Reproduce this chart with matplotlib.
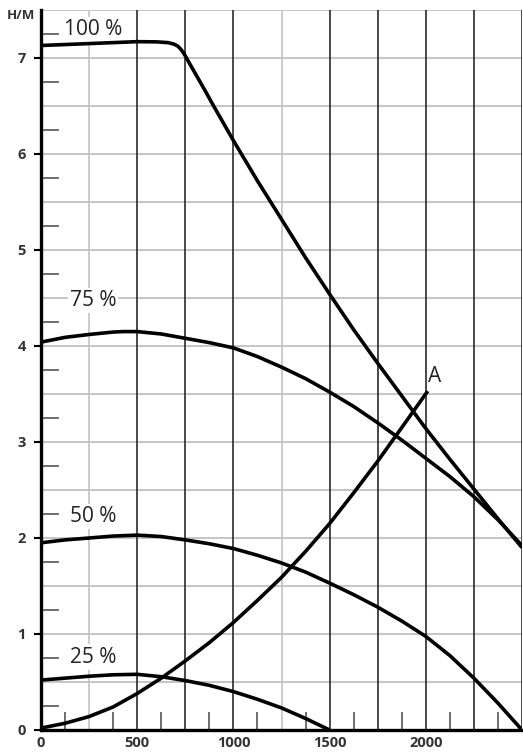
import matplotlib.pyplot as plt
from matplotlib.ticker import FixedLocator

plt.rcParams['font.family'] = ['Open Sans', 'DejaVu Sans']

# flow (x) and head H/M (y)
q100 = [0, 250, 500, 600, 660, 690, 710, 725, 740, 755, 770, 850, 900, 1000, 1125, 1250,
        1375, 1500, 1625, 1750, 1875, 2000, 2125, 2250, 2375, 2500]
h100 = [7.13, 7.15, 7.17, 7.168, 7.16, 7.145, 7.125, 7.095, 7.055, 7.005, 6.95, 6.67, 6.49,
        6.14, 5.72, 5.32, 4.92, 4.54, 4.17, 3.82, 3.48, 3.14, 2.82, 2.51, 2.2, 1.9]

q75 = [0, 125, 250, 375, 425, 500, 625, 750, 875, 1000, 1125, 1250, 1375, 1500,
       1625, 1750, 1875, 2000, 2125, 2250, 2375, 2500]
h75 = [4.04, 4.09, 4.12, 4.145, 4.15, 4.15, 4.125, 4.08, 4.035, 3.98, 3.89, 3.78,
       3.66, 3.52, 3.37, 3.2, 3.02, 2.83, 2.64, 2.43, 2.19, 1.92]

q50 = [0, 125, 250, 375, 500, 625, 750, 875, 1000, 1125, 1250, 1375, 1500, 1625,
       1750, 1875, 2000, 2125, 2250, 2375, 2500]
h50 = [1.95, 1.98, 2.0, 2.02, 2.03, 2.015, 1.98, 1.94, 1.89, 1.82, 1.74, 1.645,
       1.53, 1.41, 1.28, 1.135, 0.975, 0.775, 0.54, 0.28, 0.0]

q25 = [0, 125, 250, 375, 500, 625, 750, 875, 1000, 1125, 1250, 1375, 1500]
h25 = [0.52, 0.54, 0.56, 0.575, 0.58, 0.555, 0.515, 0.465, 0.40, 0.32, 0.23, 0.12, 0.0]

qA = [0, 125, 250, 375, 500, 625, 750, 875, 1000, 1125, 1250, 1375, 1500, 1625,
      1750, 1875, 2010]
hA = [0.02, 0.07, 0.14, 0.24, 0.38, 0.54, 0.72, 0.91, 1.12, 1.35, 1.59, 1.86,
      2.15, 2.47, 2.8, 3.15, 3.53]

curve_labels = ['100 %', '75 %', '50 %', '25 %']
label_pos = [(270, 7.3), (270, 4.47), (270, 2.22), (270, 0.76)]

xticks = [0, 500, 1000, 1500, 2000]
yticks = [0, 1, 2, 3, 4, 5, 6, 7]

fig = plt.figure(figsize=(5.23, 7.56), dpi=100)
ax = fig.add_axes([0.0784, 0.0344, 0.9197, 0.9524])
ax.set_xlim(0, 2500)
ax.set_ylim(0, 7.5)

# grid
for y in [0.5 * i for i in range(1, 16)]:
    ax.axhline(y, color='#b5b5b5', lw=1.1, zorder=1)
for x in [250, 1250]:
    ax.axvline(x, color='#c4c4c4', lw=1.2, zorder=1)
for x in [500, 750, 1000, 1500, 1750, 2000, 2250, 2498]:
    ax.axvline(x, color='#2a2a2a', lw=1.2, zorder=1)

for q, h in [(q100, h100), (q75, h75), (q50, h50), (q25, h25), (qA, hA)]:
    ax.plot(q, h, color='black', lw=2.6, solid_capstyle='butt',
            solid_joinstyle='round', zorder=3)

for txt, (x, y) in zip(curve_labels, label_pos):
    ax.text(x, y, txt, fontsize=15, color='#222222', ha='center', va='center',
            bbox=dict(facecolor='white', edgecolor='none', pad=1.5), zorder=2)
ax.text(2048, 3.68, 'A', fontsize=15, color='#222222', ha='center', va='center', zorder=4)
ax.text(-0.012, 0.992, 'H/M', transform=ax.transAxes, fontsize=9.5,
        fontweight='bold', color='#333333', ha='right', va='center')

for s in ['top', 'right']:
    ax.spines[s].set_visible(False)
for s in ['left', 'bottom']:
    ax.spines[s].set_linewidth(2.4)
    ax.spines[s].set_zorder(5)

ax.set_xticks(xticks)
ax.set_yticks(yticks)
ax.xaxis.set_minor_locator(FixedLocator([125 + 250 * i for i in range(10)]))
ax.yaxis.set_minor_locator(FixedLocator([0.25 + 0.5 * i for i in range(15)]))
ax.tick_params(axis='x', which='major', length=0, pad=4, labelsize=10.5,
               labelcolor='#333333')
ax.tick_params(axis='y', which='major', length=5, width=1.5, direction='out',
               pad=6, labelsize=10.5, labelcolor='#333333')
ax.tick_params(which='minor', direction='in', length=13, width=1.2, color='#555555')
for lab in ax.get_xticklabels() + ax.get_yticklabels():
    lab.set_fontweight('bold')

fig.savefig('out.png', dpi=100)
